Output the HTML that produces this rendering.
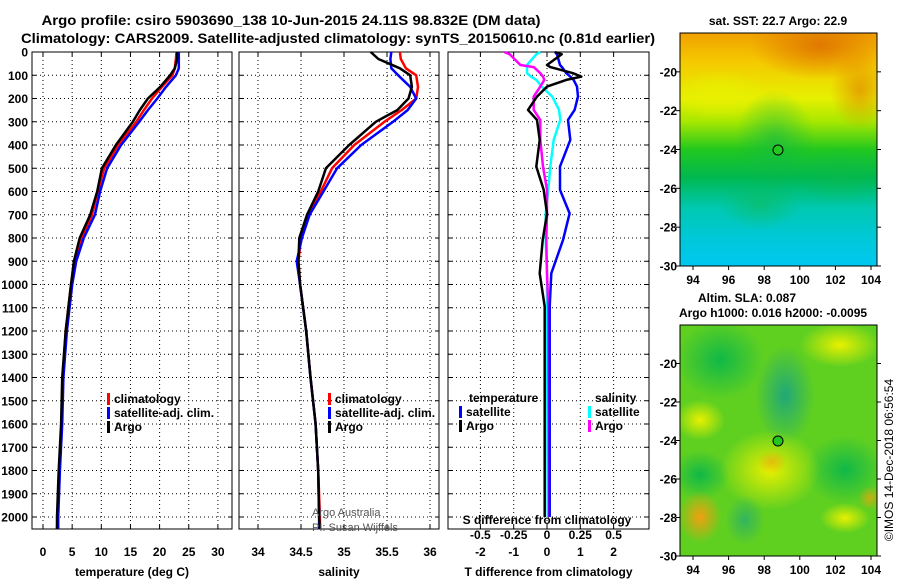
<!DOCTYPE html>
<html><head><meta charset="utf-8"><style>
body{margin:0;background:#fff}
svg{display:block;font-family:"Liberation Sans",sans-serif;font-weight:bold}
</style></head><body>
<svg id="c" width="900" height="580" viewBox="0 0 900 580">
<defs>
<linearGradient id="sstg" x1="0" y1="0" x2="0" y2="1">
<stop offset="0" stop-color="#f0a000"/><stop offset="0.12" stop-color="#f5c800"/><stop offset="0.28" stop-color="#e6f000"/>
<stop offset="0.38" stop-color="#a8e800"/><stop offset="0.5" stop-color="#22c81e"/><stop offset="0.62" stop-color="#00b850"/>
<stop offset="0.75" stop-color="#00c8b0"/><stop offset="0.88" stop-color="#00c8d8"/><stop offset="1" stop-color="#00c8f0"/>
</linearGradient>
<radialGradient id="og"><stop offset="0" stop-color="#e07800"/><stop offset="1" stop-color="#e07800" stop-opacity="0"/></radialGradient>
<radialGradient id="yg"><stop offset="0" stop-color="#e8f000"/><stop offset="1" stop-color="#e8f000" stop-opacity="0"/></radialGradient>
<radialGradient id="gg"><stop offset="0" stop-color="#10b848"/><stop offset="1" stop-color="#10b848" stop-opacity="0"/></radialGradient>
<radialGradient id="tg"><stop offset="0" stop-color="#20a878"/><stop offset="1" stop-color="#20a878" stop-opacity="0"/></radialGradient>
<radialGradient id="ag"><stop offset="0" stop-color="#f0a010"/><stop offset="1" stop-color="#f0a010" stop-opacity="0"/></radialGradient>
<clipPath id="m1"><rect x="680" y="33" width="197" height="233"/></clipPath>
<clipPath id="m2"><rect x="680" y="325" width="197" height="231"/></clipPath>
</defs>
<text x="291" y="25" text-anchor="middle" font-size="14" textLength="499" lengthAdjust="spacingAndGlyphs">Argo profile: csiro 5903690_138 10-Jun-2015 24.11S 98.832E (DM data)</text>
<text x="338" y="43" text-anchor="middle" font-size="14" textLength="634" lengthAdjust="spacingAndGlyphs">Climatology: CARS2009. Satellite-adjusted climatology: synTS_20150610.nc (0.81d earlier)</text>
<g id="p1"></g>
<g id="p2"></g>
<g id="p3"></g>

<g>
<text x="778" y="25" text-anchor="middle" font-size="12">sat. SST: 22.7 Argo: 22.9</text>
<g clip-path="url(#m1)">
<rect x="680" y="33" width="197" height="233" fill="url(#sstg)"/>
<ellipse cx="820" cy="45" rx="70" ry="35" fill="url(#og)"/>
<ellipse cx="860" cy="90" rx="30" ry="40" fill="url(#og)" opacity="0.6"/>
<ellipse cx="720" cy="95" rx="50" ry="25" fill="url(#yg)"/>
<ellipse cx="775" cy="140" rx="40" ry="50" fill="url(#gg)" opacity="0.6"/>
<ellipse cx="760" cy="205" rx="40" ry="25" fill="url(#gg)" opacity="0.5"/>
<ellipse cx="840" cy="175" rx="45" ry="30" fill="url(#gg)" opacity="0.4"/>
</g>
<rect x="680" y="33" width="197" height="233" fill="none" stroke="#000"/>
<circle cx="778" cy="150" r="5" fill="#22c81e" stroke="#000"/>
</g>
<g>
<text x="747" y="302" text-anchor="middle" font-size="12">Altim. SLA: 0.087</text>
<text x="773" y="317" text-anchor="middle" font-size="12">Argo h1000: 0.016 h2000: -0.0095</text>
<g clip-path="url(#m2)">
<rect x="680" y="325" width="197" height="231" fill="#60d020"/>
<ellipse cx="720" cy="360" rx="45" ry="40" fill="url(#gg)"/>
<ellipse cx="785" cy="395" rx="30" ry="50" fill="url(#tg)"/>
<ellipse cx="840" cy="345" rx="40" ry="22" fill="url(#yg)"/>
<ellipse cx="700" cy="420" rx="25" ry="20" fill="url(#yg)"/>
<ellipse cx="845" cy="470" rx="40" ry="35" fill="url(#gg)"/>
<ellipse cx="700" cy="475" rx="30" ry="25" fill="url(#gg)"/>
<ellipse cx="770" cy="470" rx="50" ry="40" fill="url(#yg)"/>
<ellipse cx="772" cy="462" rx="15" ry="12" fill="url(#ag)" opacity="0.6"/>
<ellipse cx="700" cy="517" rx="22" ry="26" fill="url(#ag)"/>
<ellipse cx="745" cy="520" rx="20" ry="25" fill="url(#tg)" opacity="0.7"/>
<ellipse cx="845" cy="518" rx="25" ry="15" fill="url(#yg)"/>
<ellipse cx="870" cy="498" rx="12" ry="12" fill="url(#ag)" opacity="0.7"/>
</g>
<rect x="680" y="325" width="197" height="231" fill="none" stroke="#000"/>
<circle cx="778" cy="441" r="5" fill="#22c81e" stroke="#000"/>
</g>
<text transform="translate(893,460) rotate(-90)" text-anchor="middle" font-size="12" font-weight="normal">©IMOS 14-Dec-2018 06:56:54</text>
</svg>
<script>
const depths = [0,30,70,100,150,200,250,300,400,500,600,700,800,900,1000,1200,1400,1600,1800,2000,2050];
const tempArgo = [23.0,23.0,22.6,21.8,20.1,18.0,16.6,15.4,12.5,10.1,9.3,8.1,6.3,5.3,4.8,3.9,3.3,3.1,2.7,2.4,2.4];
const tempClim = [22.9,22.8,22.6,22.2,20.4,18.7,17.3,16.0,12.9,10.5,9.4,8.4,6.7,5.5,4.8,3.9,3.4,3.2,2.8,2.5,2.4];
const tempSat = [23.3,23.3,23.3,22.8,21.1,19.6,18.0,16.5,13.4,11.0,9.8,8.9,7.0,5.7,5.0,4.1,3.5,3.3,2.9,2.6,2.6];
const salArgo = [35.31,35.40,35.65,35.77,35.79,35.75,35.62,35.37,35.06,34.79,34.70,34.57,34.48,34.47,34.49,34.56,34.61,34.67,34.70,34.71,34.72];
const salClim = [35.65,35.66,35.72,35.84,35.86,35.84,35.67,35.47,35.12,34.86,34.73,34.59,34.50,34.47,34.49,34.56,34.61,34.67,34.70,34.72,34.72];
const salSat = [35.55,35.54,35.55,35.63,35.77,35.84,35.74,35.57,35.20,34.92,34.76,34.60,34.51,34.45,34.49,34.56,34.61,34.67,34.70,34.71,34.71];
const diffDepths = [0,10,56,65,91,106,120,149,192,249,292,378,493,593,694,809,952,1095,2000];
const tDiffArgo = [0.24,0.44,0.0,0.1,0.78,1.03,0.58,0.0,-0.3,-0.57,-0.3,-0.22,-0.32,-0.1,0.0,-0.13,-0.22,-0.07,-0.07];
const tDiffSat = [0.24,0.3,0.39,0.45,0.58,0.7,0.8,0.9,0.93,0.83,0.63,0.7,0.39,0.39,0.68,0.48,0.13,0.08,0.08];
const sDiffSat = [-0.05,-0.08,-0.15,-0.15,-0.15,-0.12,-0.08,-0.04,0.04,0.09,0.1,0.05,0.025,0.01,-0.01,-0.01,0.0,0.0,0.005];
const sDiffArgo = [-0.32,-0.28,-0.2,-0.1,-0.05,-0.03,-0.02,-0.05,-0.1,-0.1,-0.05,-0.05,-0.03,0.0,0.0,-0.005,0.0,0.01,0.015];
const depthTicks = [0,100,200,300,400,500,600,700,800,900,1000,1100,1200,1300,1400,1500,1600,1700,1800,1900,2000];
const tempTicks = [0,5,10,15,20,25,30];
const salTicks = [34,34.5,35,35.5,36];
const tDiffTicks = [-2,-1,0,1,2];
const sDiffTicks = [-0.5,-0.25,0,0.25,0.5];
const latTicks = [-20,-22,-24,-26,-28,-30];
const lonTicks = [94,96,98,100,102,104];

const NS='http://www.w3.org/2000/svg';
const TOP=52, BOT=529;
const yD = d => TOP + d*0.2325;
function el(p,tag,attrs){const e=document.createElementNS(NS,tag);for(const k in attrs)e.setAttribute(k,attrs[k]);p.appendChild(e);return e;}
function txt(p,x,y,s,anchor,size,name){const t=el(p,'text',{x:x,y:y,'text-anchor':anchor,'font-size':size});t.textContent=s;


return t;}
function panel(g,x0,x1,xs,ticks,fmt,xlabel,labelLeft){
  el(g,'rect',{x:x0,y:TOP,width:x1-x0,height:BOT-TOP,fill:'#fff'});
  depthTicks.forEach(d=>{const l=el(g,'line',{x1:x0,x2:x1,y1:yD(d),y2:yD(d),stroke:'#000','stroke-dasharray':'1 3','stroke-width':1});
    
    
    el(g,'line',{x1:x0,x2:x0+4,y1:yD(d),y2:yD(d),stroke:'#000'});el(g,'line',{x1:x1-4,x2:x1,y1:yD(d),y2:yD(d),stroke:'#000'});
    if(labelLeft) txt(g,x0-4,yD(d)+4.5,String(d),'end',12,'depth-tick-label');});
  ticks.forEach(v=>{const x=xs(v);const l=el(g,'line',{x1:x,x2:x,y1:TOP,y2:BOT,stroke:'#000','stroke-dasharray':'1 3'});
    
    
    el(g,'line',{x1:x,x2:x,y1:BOT-4,y2:BOT,stroke:'#000'});el(g,'line',{x1:x,x2:x,y1:TOP,y2:TOP+4,stroke:'#000'});
    if(fmt) txt(g,x,BOT+27,fmt(v),'middle',12,'x-tick-label');});
  el(g,'rect',{x:x0,y:TOP,width:x1-x0,height:BOT-TOP,fill:'none',stroke:'#000'});
  txt(g,(x0+x1)/2,BOT+47,xlabel,'middle',12,'x-axis-title');
}
function line(g,xs,vals,ds,color,name){
  const pts=vals.map((v,i)=>xs(v).toFixed(1)+','+yD(ds[i]).toFixed(1)).join(' ');
  const p=el(g,'polyline',{points:pts,fill:'none',stroke:color,'stroke-width':2.5,'stroke-linejoin':'round'});
  
  
}
function legend(g,x,y,items){
  items.forEach((it,i)=>{const r=el(g,'rect',{x:x,y:y+i*14-10,width:3,height:12,fill:it[1]});
    
    
    txt(g,x+7,y+i*14,it[0],'start',12,'legend-entry');});
}
// panel 1
const p1=document.getElementById('p1');
const xT=v=>43+v*5.83;
panel(p1,32,232,xT,tempTicks,v=>String(v),'temperature (deg C)',true);
line(p1,xT,tempClim,depths,'#f00','temp-climatology-line');
line(p1,xT,tempSat,depths,'#00f','temp-satellite-line');
line(p1,xT,tempArgo,depths,'#000','temp-argo-line');
legend(p1,107,403,[['climatology','#f00'],['satellite-adj. clim.','#00f'],['Argo','#000']]);
// panel 2
const p2=document.getElementById('p2');
const xS=v=>258+(v-34)*86;
panel(p2,239,439,xS,salTicks,v=>String(v),'salinity',false);
line(p2,xS,salClim,depths,'#f00','sal-climatology-line');
line(p2,xS,salSat,depths,'#00f','sal-satellite-line');
line(p2,xS,salArgo,depths,'#000','sal-argo-line');
legend(p2,328,403,[['climatology','#f00'],['satellite-adj. clim.','#00f'],['Argo','#000']]);
const a1=txt(p2,312,516,'Argo Australia','start',11,'credit-argo-australia');a1.setAttribute('font-weight','normal');a1.setAttribute('fill','#555');
const a2=txt(p2,312,531,'PI: Susan Wijffels','start',11,'credit-pi');a2.setAttribute('font-weight','normal');a2.setAttribute('fill','#555');
// panel 3
const p3=document.getElementById('p3');
const xTd=v=>547+v*33.3;
const xSd=v=>547+v*133.2;
panel(p3,448,649,xTd,tDiffTicks,v=>String(v),'T difference from climatology',false);
line(p3,xSd,sDiffSat,diffDepths,'#0ff','sdiff-satellite-line');
line(p3,xSd,sDiffArgo,diffDepths,'#f0f','sdiff-argo-line');
line(p3,xTd,tDiffSat,diffDepths,'#00f','tdiff-satellite-line');
line(p3,xTd,tDiffArgo,diffDepths,'#000','tdiff-argo-line');
txt(p3,547,524,'S difference from climatology','middle',12,'s-axis-title');
sDiffTicks.forEach(v=>txt(p3,xSd(v),539,String(v),'middle',12,'s-tick-label'));
txt(p3,469,402,'temperature','start',12,'legend-title-temperature');
txt(p3,595,402,'salinity','start',12,'legend-title-salinity');
legend(p3,459,416,[['satellite','#00f'],['Argo','#000']]);
legend(p3,588,416,[['satellite','#0ff'],['Argo','#f0f']]);
// map axes
const svg=document.getElementById('c');
function mapAxes(top,bottom,lonY){
  const yl=v=>top+(-18-v)*((bottom-top)/12);
  latTicks.forEach(v=>{const y=yl(v);txt(svg,677,y+4.5,String(v),'end',12,'lat-tick-label');
    el(svg,'line',{x1:877,x2:881,y1:y,y2:y,stroke:'#000'});el(svg,'line',{x1:676,x2:680,y1:y,y2:y,stroke:'#000'});});
  lonTicks.forEach(v=>{const x=693+(v-94)*17.8;txt(svg,x,lonY,String(v),'middle',12,'lon-tick-label');
    el(svg,'line',{x1:x,x2:x,y1:bottom,y2:bottom+4,stroke:'#000'});});
}
mapAxes(33,266,284);
mapAxes(325,556,574);
</script>
</body></html>
